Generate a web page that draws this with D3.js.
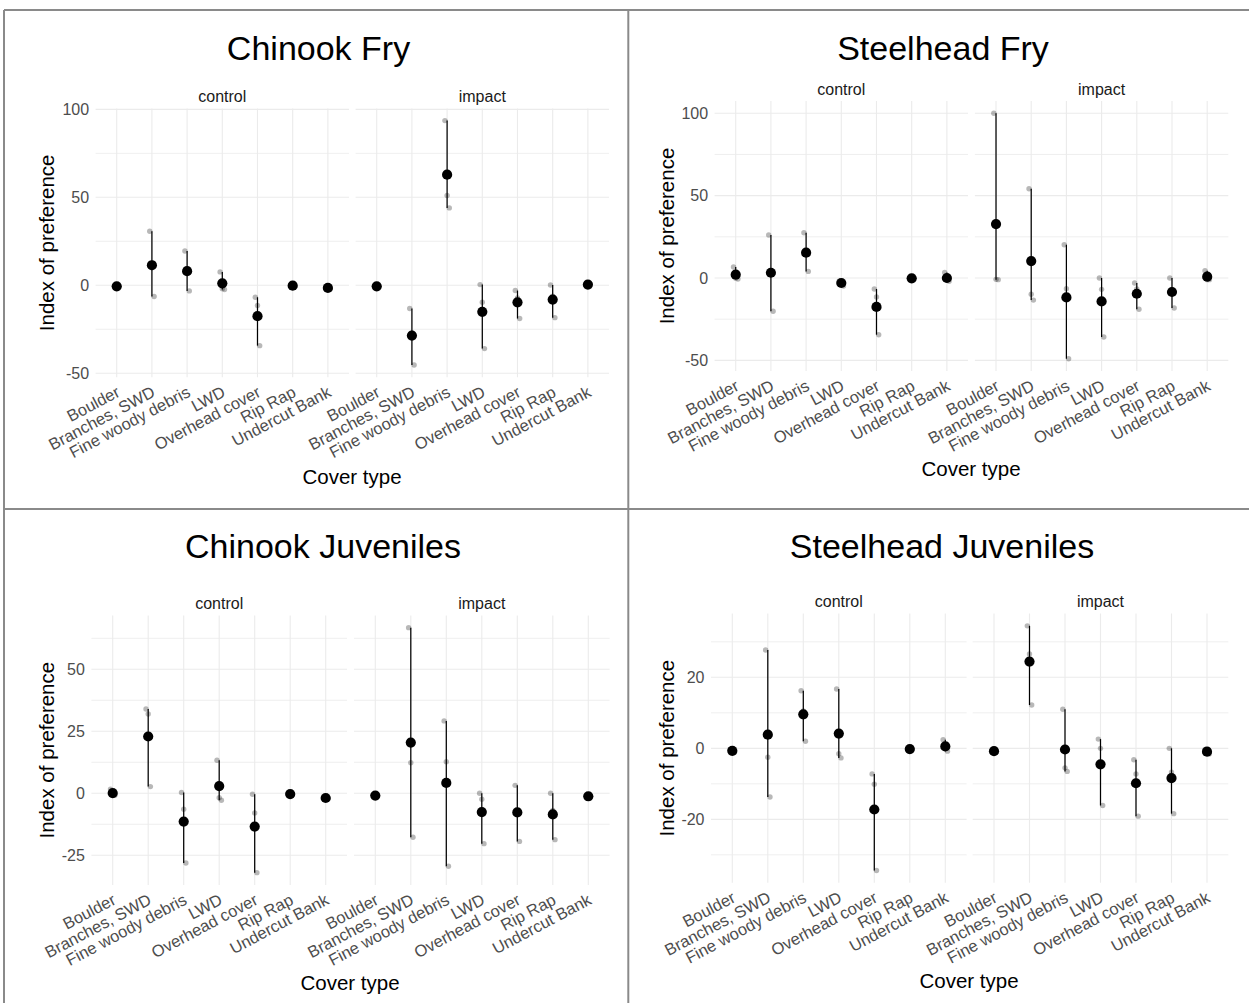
<!DOCTYPE html>
<html>
<head>
<meta charset="utf-8">
<script src="https://cdn.jsdelivr.net/npm/d3@7"></script>
<style>
  html, body { margin: 0; padding: 0; background: #fff; }
  svg { display: block; font-family: "Liberation Sans", Arial, Helvetica, sans-serif; }
</style>
</head>
<body>
<svg id="chart" width="1249" height="1003"></svg>
<script>
// Cover types on the x axis, shared by every facet
const categories = ["Boulder", "Branches, SWD", "Fine woody debris", "LWD", "Overhead cover", "Rip Rap", "Undercut Bank"];
const facets = ["control", "impact"];

// Index of preference per survey, three surveys per cover type (control / impact)
const chinookFryControl = [[-0.3, -0.6, -0.9], [30.7, 9.9, -6.4], [19.5, 7.7, -3.2], [7.6, -1.9, -2.4], [-6.8, -11.5, -34.3], [0, -0.2, -0.4], [-1.0, -1.5, -2.0]];
const chinookFryImpact  = [[-0.3, -0.6, -0.9], [-13.2, -27.3, -45.3], [93.6, 51, 44], [0.4, -9.6, -36], [-3.0, -7.2, -18.9], [0.2, -6.2, -18.4], [0.1, 0.4, 0.7]];

const steelheadFryControl = [[6.7, -0.1, -0.6], [26.1, 3.7, -20.2], [27.5, 14.7, 4.0], [-2.0, -2.2, -4.9], [-6.7, -11.5, -34.4], [0, -0.2, -0.4], [3.4, -1.4, -2.0]];
const steelheadFryImpact  = [[100, -0.8, -1.0], [54.2, -9.9, -13.4], [20.2, -6.5, -49], [0, -6.9, -35.8], [-3.0, -6.7, -19.0], [0, -7.3, -18.2], [4.4, -1.0, -1.0]];

const chinookJuvControl = [[1.7, -0.6, -0.8], [34.0, 32.0, 2.7], [0.3, -6.4, -28.1], [13.3, -1.8, -2.8], [-0.4, -7.9, -32.0], [0, -0.3, -0.6], [-1.5, -2.0, -2.2]];
const chinookJuvImpact  = [[-0.7, -0.9, -1.1], [66.8, 12.3, -17.7], [29.2, 12.7, -29.4], [0, -2.4, -20.3], [3.2, -6.9, -19.4], [0, -6.9, -18.7], [-1.0, -1.2, -1.4]];

const steelheadJuvControl = [[-0.3, -0.7, -1.1], [27.7, -2.5, -13.7], [16.2, 10.5, 2.0], [16.7, -1.5, -2.7], [-7.2, -10.1, -34.4], [0, -0.2, -0.4], [2.4, 0, -0.8]];
const steelheadJuvImpact  = [[-0.6, -0.8, -1.0], [34.5, 26.6, 12.2], [11.0, -5.5, -6.5], [2.6, 0, -16.1], [-3.2, -7.2, -19.1], [0, -6.7, -18.4], [-0.4, -0.8, -1.6]];

// Y tick labels per panel
const ticksFry = [-50, 0, 50, 100];
const ticksChinookJuv = [-25, 0, 25, 50];
const ticksSteelheadJuv = [-20, 0, 20];

const panels = [
  { title: "Chinook Fry", data: [chinookFryControl, chinookFryImpact], ticks: ticksFry,
    lay: { x0: [95.6, 355.6], w: 253.4, top: 108.4, bottom: 377.2, titleX: 318.5, titleY: 60, stripY: 102, ytitleX: 54, coverX: 352, coverY: 484 } },
  { title: "Steelhead Fry", data: [steelheadFryControl, steelheadFryImpact], ticks: ticksFry,
    lay: { x0: [714.6, 974.9], w: 253.4, top: 101, bottom: 371, titleX: 943, titleY: 60, stripY: 95, ytitleX: 674, coverX: 971, coverY: 476 } },
  { title: "Chinook Juveniles", data: [chinookJuvControl, chinookJuvImpact], ticks: ticksChinookJuv,
    lay: { x0: [91.4, 354], w: 255.6, top: 615.4, bottom: 884.9, titleX: 323, titleY: 558, stripY: 609, ytitleX: 54, coverX: 350, coverY: 990 } },
  { title: "Steelhead Juveniles", data: [steelheadJuvControl, steelheadJuvImpact], ticks: ticksSteelheadJuv,
    lay: { x0: [711, 972.7], w: 255.6, top: 613.6, bottom: 882.7, titleX: 942, titleY: 558, stripY: 607, ytitleX: 674, coverX: 969, coverY: 988 } }
];

const svg = d3.select("#chart");
svg.append("rect").attr("width", 1249).attr("height", 1003).attr("fill", "#fff");

const gridColor = "#ebebeb";
const textGrey = "#4d4d4d";

panels.forEach(p => {
  const L = p.lay;
  const g = svg.append("g");

  // y scale with 5% expansion around the data range
  const all = p.data.flat(2);
  const [lo, hi] = d3.extent(all);
  const pad = (hi - lo) * 0.05;
  const y = d3.scaleLinear().domain([lo - pad, hi + pad]).range([L.bottom, L.top]);

  // minor grid values: midpoints between major ticks, inside the range
  const step = p.ticks[1] - p.ticks[0];
  const minor = [];
  for (let v = p.ticks[0] - step / 2; v <= p.ticks[p.ticks.length - 1] + step / 2; v += step) {
    if (v >= y.domain()[0] && v <= y.domain()[1]) minor.push(v);
  }

  facets.forEach((facet, fi) => {
    const x = d3.scalePoint().domain(categories).range([L.x0[fi], L.x0[fi] + L.w]).padding(0.6);
    const fg = g.append("g");

    // grid
    fg.selectAll("line.minor").data(minor).join("line")
      .attr("x1", L.x0[fi]).attr("x2", L.x0[fi] + L.w)
      .attr("y1", d => y(d)).attr("y2", d => y(d))
      .attr("stroke", gridColor).attr("stroke-width", 0.8);
    fg.selectAll("line.major").data(p.ticks).join("line")
      .attr("x1", L.x0[fi]).attr("x2", L.x0[fi] + L.w)
      .attr("y1", d => y(d)).attr("y2", d => y(d))
      .attr("stroke", gridColor).attr("stroke-width", 1.1);
    fg.selectAll("line.vgrid").data(categories).join("line")
      .attr("x1", d => x(d)).attr("x2", d => x(d))
      .attr("y1", L.top).attr("y2", L.bottom)
      .attr("stroke", gridColor).attr("stroke-width", 1.1);

    // strip label
    fg.append("text").attr("x", L.x0[fi] + L.w / 2).attr("y", L.stripY)
      .attr("text-anchor", "middle").attr("font-size", 16).attr("fill", "#1a1a1a").text(facet);

    // x axis labels (rotated)
    const xa = fg.append("g").attr("transform", `translate(0,${L.bottom})`)
      .call(d3.axisBottom(x).tickSize(0).tickPadding(0));
    xa.select(".domain").remove();
    xa.selectAll("text")
      .attr("font-size", 16.5).attr("fill", textGrey).attr("font-family", null)
      .attr("text-anchor", "end").attr("y", 0).attr("dy", "0.75em")
      .attr("transform", "translate(-2,7.5) rotate(-28)");

    const rows = p.data[fi].map((vals, i) => ({ cat: categories[i], vals, mean: d3.mean(vals) }));

    // individual surveys
    rows.forEach(r => {
      fg.selectAll(null).data(r.vals).join("circle")
        .attr("cx", (d, j) => x(r.cat) + (j - 1) * 2.2)
        .attr("cy", d => y(d))
        .attr("r", 2.7)
        .attr("fill", "#000").attr("fill-opacity", 0.28);
    });

    // range line
    fg.selectAll("line.range").data(rows).join("line")
      .attr("x1", d => x(d.cat)).attr("x2", d => x(d.cat))
      .attr("y1", d => y(d3.min(d.vals))).attr("y2", d => y(d3.max(d.vals)))
      .attr("stroke", "#000").attr("stroke-width", 1.25);

    // mean
    fg.selectAll("circle.mean").data(rows).join("circle")
      .attr("cx", d => x(d.cat)).attr("cy", d => y(d.mean))
      .attr("r", 5.1).attr("fill", "#000");
  });

  // y axis labels
  const ya = g.append("g").attr("transform", `translate(${L.x0[0]},0)`)
    .call(d3.axisLeft(y).tickValues(p.ticks).tickSize(0).tickPadding(6.5).tickFormat(d => String(d)));
  ya.select(".domain").remove();
  ya.selectAll("text").attr("font-size", 16).attr("fill", textGrey).attr("font-family", null);

  // titles
  g.append("text").attr("x", L.titleX).attr("y", L.titleY).attr("text-anchor", "middle")
    .attr("font-size", 34).attr("fill", "#000").text(p.title);
  g.append("text").attr("transform", `translate(${L.ytitleX},${(L.top + L.bottom) / 2}) rotate(-90)`)
    .attr("text-anchor", "middle").attr("font-size", 20.5).attr("fill", "#000").text("Index of preference");
  g.append("text").attr("x", L.coverX).attr("y", L.coverY).attr("text-anchor", "middle")
    .attr("font-size", 20.5).attr("fill", "#000").text("Cover type");
});

// frame lines separating the four charts
const frame = [
  [4, 10, 4, 1003], [4, 10, 1249, 10],
  [628.3, 10, 628.3, 1003], [4, 509, 1249, 509]
];
svg.selectAll("line.frame").data(frame).join("line")
  .attr("x1", d => d[0]).attr("y1", d => d[1]).attr("x2", d => d[2]).attr("y2", d => d[3])
  .attr("stroke", "#8a8a8a").attr("stroke-width", 2);
</script>
</body>
</html>
